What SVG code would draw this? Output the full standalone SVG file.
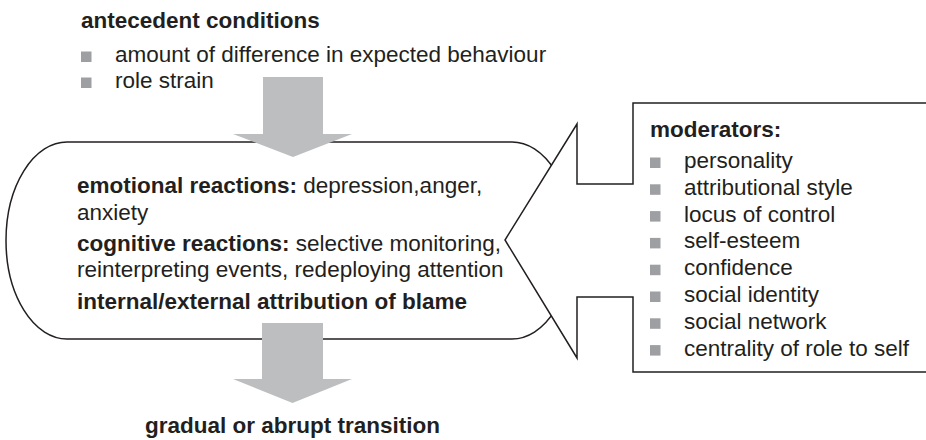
<svg xmlns="http://www.w3.org/2000/svg" width="926" height="440" viewBox="0 0 926 440">
<style>
text{font-family:"Liberation Sans",Arial,Helvetica,sans-serif;font-size:22.5px;fill:#231f20}
.b{font-weight:bold}
.ln{fill:#fff;stroke:#231f20;stroke-width:1.5;stroke-linejoin:miter}
.nf{fill:none;stroke:#231f20;stroke-width:1.5}
.bul{fill:#9d9fa2}
.arr{fill:#bcbec0}
</style>
<defs>
<rect id="sq" class="bul" x="0" y="-10.5" width="10.5" height="10.5"/>
</defs>
<g id="antecedent">
<text class="b" x="81" y="28">antecedent conditions</text>
<use href="#sq" x="81" y="62"/>
<text x="115" y="62">amount of difference in expected behaviour</text>
<use href="#sq" x="81" y="88"/>
<text x="115" y="88">role strain</text>
</g>
<g id="reactions">
<path class="ln" d="M67,142 H512 A61,98.5 0 0 1 512,339 H67 A61,98.5 0 0 1 67,142 Z"/>
<text x="77" y="193"><tspan class="b">emotional reactions:</tspan> depression,anger,</text>
<text x="77" y="219.5">anxiety</text>
<text x="77" y="251"><tspan class="b">cognitive reactions:</tspan> selective monitoring,</text>
<text x="77" y="277">reinterpreting events, redeploying attention</text>
<text class="b" x="77" y="309">internal/external attribution of blame</text>
</g>
<g id="moderators">
<path fill="#fff" stroke="none" d="M930,103 H633 V184 H577 V124 L505,240 L577,358 V297 H633 V372 H930 Z"/>
<path class="nf" d="M930,103 H633 V184 H577 V124 L505,240 L577,358 V297 H633 V372 H930"/>
<text class="b" x="650" y="137">moderators:</text>
<use href="#sq" x="650" y="168"/><text x="684" y="168">personality</text>
<use href="#sq" x="650" y="194.8"/><text x="684" y="194.8">attributional style</text>
<use href="#sq" x="650" y="221.6"/><text x="684" y="221.6">locus of control</text>
<use href="#sq" x="650" y="248.4"/><text x="684" y="248.4">self-esteem</text>
<use href="#sq" x="650" y="275.2"/><text x="684" y="275.2">confidence</text>
<use href="#sq" x="650" y="302"/><text x="684" y="302">social identity</text>
<use href="#sq" x="650" y="328.8"/><text x="684" y="328.8">social network</text>
<use href="#sq" x="650" y="355.6"/><text x="684" y="355.6">centrality of role to self</text>
</g>
<g id="transition">
<text class="b" x="145" y="433">gradual or abrupt transition</text>
</g>
<g id="connectors">
<path class="arr" d="M263,77 H323 V134 H352 L293,157 L233,134 H263 Z"/>
<path class="arr" d="M262,323 H323 V379 H352 L292.5,403 L233,379 H262 Z"/>
</g>
</svg>
